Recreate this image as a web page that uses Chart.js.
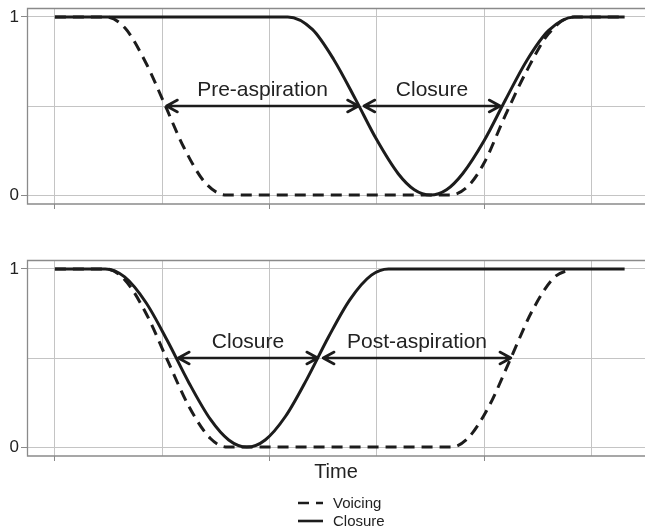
<!DOCTYPE html>
<html>
<head>
<meta charset="utf-8">
<script src="https://cdn.jsdelivr.net/npm/chart.js@4.4.0/dist/chart.umd.min.js"></script>
<style>
  html, body { margin: 0; padding: 0; background: #fff; }
  #wrap { position: relative; width: 645px; height: 530px; }
  #c1box { position: absolute; left: 0; top: 0; width: 645px; height: 230px; }
  #c2box { position: absolute; left: 0; top: 230px; width: 645px; height: 300px; }
</style>
</head>
<body>
<div id="wrap">
  <div id="c1box"><canvas id="c1"></canvas></div>
  <div id="c2box"><canvas id="c2"></canvas></div>
</div>
<script>
// ---- Data ----
const xTicks = [0, 1, 2, 3, 4, 5];
const xTickMarks = [0, 2, 4];
const yTicks = [0, 0.5, 1];
const yTickLabels = ['0', '', '1'];

// Top panel
const topClosureX = [0, 2.17, 2.4, 2.6, 2.8, 3.0, 3.2, 3.35, 3.5, 3.65, 3.8, 4.0, 4.2, 4.4, 4.6, 4.84, 5.31];
const topClosureY = [1, 1, 0.93, 0.76, 0.54, 0.31, 0.12, 0.03, 0, 0.03, 0.12, 0.305, 0.535, 0.757, 0.923, 1, 1];
const topVoicingX = [0, 0.47, 0.65, 0.85, 1.03, 1.2, 1.4, 1.6, 3.68, 3.85, 4.0, 4.2, 4.4, 4.6, 4.83, 5.31];
const topVoicingY = [1, 1, 0.94, 0.74, 0.5, 0.27, 0.07, 0, 0, 0.05, 0.18, 0.45, 0.7, 0.905, 1, 1];

// Bottom panel
const botClosureX = [0, 0.47, 0.65, 0.85, 1.05, 1.25, 1.45, 1.62, 1.79, 1.96, 2.15, 2.35, 2.55, 2.75, 2.95, 3.11, 5.31];
const botClosureY = [1, 1, 0.955, 0.81, 0.595, 0.36, 0.155, 0.04, 0, 0.04, 0.173, 0.383, 0.618, 0.828, 0.965, 1, 1];
const botVoicingX = [0, 0.47, 0.65, 0.85, 1.05, 1.25, 1.45, 1.61, 3.69, 3.85, 4.05, 4.25, 4.45, 4.65, 4.81];
const botVoicingY = [1, 1, 0.94, 0.75, 0.486, 0.227, 0.048, 0, 0, 0.05, 0.234, 0.5, 0.766, 0.95, 1];

// Arrow annotations
const topArrowFrom = [1.04, 2.88];
const topArrowTo = [2.83, 4.15];
const topArrowLabels = ['Pre-aspiration', 'Closure'];
const botArrowFrom = [1.15, 2.50];
const botArrowTo = [2.45, 4.25];
const botArrowLabels = ['Closure', 'Post-aspiration'];
const arrowY = 0.5;

const seriesNames = ['Voicing', 'Closure'];
const xAxisTitle = 'Time';

// ---- Helpers ----
const INK = '#1c1c1c';
const FONT = '"Liberation Sans", Arial, Helvetica, sans-serif';

function pts(xs, ys) { return xs.map((x, i) => ({ x: x, y: ys[i] })); }

const boxPlugin = {
  id: 'box',
  beforeDatasetsDraw(chart) {
    const a = chart.chartArea, ctx = chart.ctx;
    ctx.save();
    ctx.strokeStyle = '#8a8a8a';
    ctx.lineWidth = 1.3;
    ctx.beginPath();
    ctx.moveTo(a.right + 2, a.top + 0.5);
    ctx.lineTo(a.left + 0.5, a.top + 0.5);
    ctx.lineTo(a.left + 0.5, a.bottom);
    ctx.lineTo(a.right + 2, a.bottom);
    ctx.stroke();
    ctx.restore();
  }
};

function arrowPlugin(froms, tos, labels) {
  return {
    id: 'arrows',
    afterDatasetsDraw(chart) {
      const ctx = chart.ctx, xs = chart.scales.x, ys = chart.scales.y;
      ctx.save();
      ctx.strokeStyle = INK;
      ctx.fillStyle = INK;
      ctx.lineWidth = 2.6;
      ctx.lineCap = 'round';
      ctx.lineJoin = 'round';
      const py = ys.getPixelForValue(arrowY);
      froms.forEach((f, i) => {
        const x0 = xs.getPixelForValue(f), x1 = xs.getPixelForValue(tos[i]);
        ctx.beginPath();
        ctx.moveTo(x0, py); ctx.lineTo(x1, py);
        ctx.moveTo(x0 + 11, py - 6); ctx.lineTo(x0, py); ctx.lineTo(x0 + 11, py + 6);
        ctx.moveTo(x1 - 11, py - 6); ctx.lineTo(x1, py); ctx.lineTo(x1 - 11, py + 6);
        ctx.stroke();
        ctx.font = '21px ' + FONT;
        ctx.textAlign = 'center';
        ctx.textBaseline = 'alphabetic';
        ctx.fillStyle = '#222';
        ctx.fillText(labels[i], (x0 + x1) / 2, py - 10);
      });
      ctx.restore();
    }
  };
}

const legendPlugin = {
  id: 'customLegend',
  afterDraw(chart) {
    const ctx = chart.ctx;
    const top = chart.chartArea.bottom + 47;
    const x0 = 298, x1 = 323;
    ctx.save();
    chart.data.datasets.forEach((ds, i) => {
      const y = top + i * 18;
      ctx.strokeStyle = INK;
      ctx.lineWidth = 2.6;
      ctx.setLineDash(ds.borderDash || []);
      ctx.beginPath(); ctx.moveTo(x0, y); ctx.lineTo(x1, y); ctx.stroke();
      ctx.setLineDash([]);
      ctx.fillStyle = '#222';
      ctx.font = '15px ' + FONT;
      ctx.textAlign = 'left';
      ctx.textBaseline = 'middle';
      ctx.fillText(ds.label, 333, y + 1);
    });
    ctx.restore();
  }
};

function makeChart(id, voicing, closure, padTop, padBottom, xHeight, withTitle, plugins) {
  return new Chart(document.getElementById(id), {
    type: 'line',
    data: {
      datasets: [
        { label: seriesNames[0], data: voicing, borderColor: INK, borderWidth: 3, borderDash: [11, 7],
          pointRadius: 0, cubicInterpolationMode: 'monotone', fill: false },
        { label: seriesNames[1], data: closure, borderColor: INK, borderWidth: 3,
          pointRadius: 0, cubicInterpolationMode: 'monotone', fill: false }
      ]
    },
    options: {
      responsive: true,
      maintainAspectRatio: false,
      animation: false,
      events: [],
      layout: { padding: { top: padTop, bottom: padBottom, left: 0, right: 0 } },
      plugins: { legend: { display: false }, tooltip: { enabled: false } },
      scales: {
        x: {
          type: 'linear',
          min: -0.26, max: 5.5,
          afterBuildTicks: s => { s.ticks = xTicks.map(v => ({ value: v })); },
          afterFit: s => { s.height = xHeight; s.paddingLeft = 0; s.paddingRight = 0; },
          ticks: { callback: () => '', padding: 0, maxRotation: 0, autoSkip: false },
          grid: {
            color: '#c4c4c4', lineWidth: 1, drawTicks: true, tickLength: 5,
            tickColor: c => (c.tick && xTickMarks.includes(c.tick.value)) ? '#8a8a8a' : 'rgba(0,0,0,0)'
          },
          border: { display: false },
          title: withTitle ? {
            display: true, text: xAxisTitle, color: '#222',
            font: { family: FONT, size: 20, lineHeight: 1.2 }, padding: { top: 0, bottom: 0 }
          } : { display: false }
        },
        y: {
          type: 'linear',
          min: -0.05, max: 1.05,
          afterBuildTicks: s => { s.ticks = yTicks.map(v => ({ value: v })); },
          afterFit: s => { s.width = 27; s.paddingTop = 0; s.paddingBottom = 0; },
          ticks: {
            callback: (v, i) => yTickLabels[i],
            color: '#222', padding: 2,
            font: { family: FONT, size: 17 }
          },
          grid: {
            color: '#c4c4c4', lineWidth: 1, drawTicks: true, tickLength: 6,
            tickColor: c => (c.tick && c.tick.value !== 0.5) ? '#8a8a8a' : 'rgba(0,0,0,0)'
          },
          border: { display: false }
        }
      }
    },
    plugins: plugins
  });
}

makeChart('c1', pts(topVoicingX, topVoicingY), pts(topClosureX, topClosureY), 8, 0, 26, false,
  [boxPlugin, arrowPlugin(topArrowFrom, topArrowTo, topArrowLabels)]);
makeChart('c2', pts(botVoicingX, botVoicingY), pts(botClosureX, botClosureY), 30, 46, 28, true,
  [boxPlugin, arrowPlugin(botArrowFrom, botArrowTo, botArrowLabels), legendPlugin]);
</script>
</body>
</html>
